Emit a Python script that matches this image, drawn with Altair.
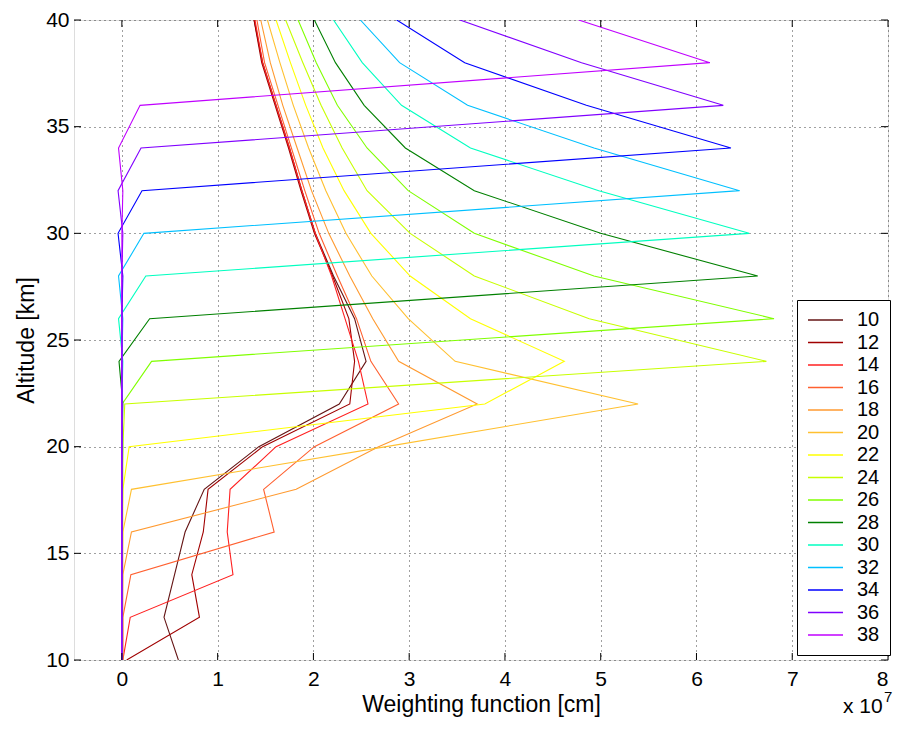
import altair as alt
import pandas as pd

# altitude grid [km]
altitudes = [10, 12, 14, 16, 18, 20, 22, 24, 26, 28, 30, 32, 34, 36, 38, 40]

# weighting functions (x 1e7 cm), one list per tangent altitude, values at the altitudes above
w10 = [0.59, 0.44, 0.55, 0.66, 0.86, 1.43, 2.27, 2.55, 2.43, 2.21, 2.02, 1.88, 1.75, 1.61, 1.47, 1.38]
w12 = [0.05, 0.81, 0.73, 0.85, 0.90, 1.47, 2.38, 2.43, 2.37, 2.20, 2.01, 1.87, 1.74, 1.60, 1.46, 1.38]
w14 = [0.01, 0.087, 1.16, 1.10, 1.13, 1.61, 2.57, 2.47, 2.33, 2.19, 2.02, 1.88, 1.75, 1.61, 1.47, 1.39]
w16 = [0.01, 0.01, 0.094, 1.59, 1.48, 2.01, 2.89, 2.60, 2.45, 2.25, 2.06, 1.91, 1.77, 1.63, 1.49, 1.41]
w18 = [0.01, 0.01, 0.01, 0.10, 1.82, 2.68, 3.71, 2.89, 2.62, 2.38, 2.16, 1.98, 1.83, 1.68, 1.55, 1.45]
w20 = [0.0, 0.0, 0.01, 0.01, 0.10, 2.76, 5.39, 3.48, 2.99, 2.61, 2.34, 2.13, 1.95, 1.79, 1.65, 1.52]
w22 = [0.0, 0.0, 0.0, 0.01, 0.01, 0.076, 3.79, 4.62, 3.64, 3.01, 2.60, 2.32, 2.10, 1.92, 1.76, 1.61]
w24 = [0.0, 0.0, 0.0, 0.0, 0.01, 0.01, 0.03, 6.73, 4.88, 3.68, 3.01, 2.56, 2.30, 2.08, 1.89, 1.71]
w26 = [0.0, 0.0, 0.0, 0.0, 0.0, 0.01, 0.003, 0.31, 6.81, 4.93, 3.68, 2.99, 2.56, 2.25, 2.03, 1.84]
w28 = [0.0, 0.0, 0.0, 0.0, 0.0, 0.0, 0.01, -0.03, 0.29, 6.64, 5.00, 3.68, 2.96, 2.53, 2.23, 2.01]
w30 = [0.0, 0.0, 0.0, 0.0, 0.0, 0.0, 0.0, 0.01, -0.035, 0.25, 6.55, 4.98, 3.64, 2.92, 2.51, 2.21]
w32 = [0.0, 0.0, 0.0, 0.0, 0.0, 0.0, 0.0, 0.0, 0.01, -0.035, 0.23, 6.45, 4.93, 3.61, 2.90, 2.49]
w34 = [0.0, 0.0, 0.0, 0.0, 0.0, 0.0, 0.0, 0.0, 0.0, 0.01, -0.04, 0.21, 6.36, 4.85, 3.58, 2.87]
w36 = [0.0, 0.0, 0.0, 0.0, 0.0, 0.0, 0.0, 0.0, 0.0, 0.0, 0.01, -0.04, 0.20, 6.28, 4.80, 3.53]
w38 = [0.0, 0.0, 0.0, 0.0, 0.0, 0.0, 0.0, 0.0, 0.0, 0.0, 0.0, 0.01, -0.035, 0.19, 6.14, 4.77]

series_names = ["10", "12", "14", "16", "18", "20", "22", "24", "26", "28", "30", "32", "34", "36", "38"]
series_values = [w10, w12, w14, w16, w18, w20, w22, w24, w26, w28, w30, w32, w34, w36, w38]
series_colors = ["#641414", "#a00000", "#ff2020", "#ff6030", "#ff9a30", "#ffc030", "#ffff00",
                 "#c8ff00", "#80ff00", "#008000", "#00ffc0", "#00c0ff", "#0000ff", "#8000ff", "#c000ff"]

x_ticks = [0, 1, 2, 3, 4, 5, 6, 7, 8]
y_ticks = [10, 15, 20, 25, 30, 35, 40]

rows = []
for name, vals in zip(series_names, series_values):
    for a, v in zip(altitudes, vals):
        rows.append({"series": name, "alt": a, "w": v})
df = pd.DataFrame(rows)

W, H = 814, 640
FONT = "Liberation Sans"

xscale = alt.Scale(domain=[-0.5, 8], nice=False, zero=False)
yscale = alt.Scale(domain=[10, 40], nice=False, zero=False)

lines = alt.Chart(df).mark_line(strokeWidth=1.1, clip=True).encode(
    x=alt.X("w:Q", scale=xscale,
            axis=alt.Axis(values=x_ticks, format="d", title="Weighting function [cm]", grid=True,
                          gridDash=[1, 4], gridColor="#000000", gridOpacity=0.75,
                          tickSize=0, domain=False, labelFont=FONT, labelFontSize=21,
                          labelColor="#000000", labelPadding=8, titleFont=FONT,
                          titleFontSize=23, titleFontWeight="normal", titleColor="#000000",
                          titlePadding=4)),
    y=alt.Y("alt:Q", scale=yscale,
            axis=alt.Axis(values=y_ticks, format="d", title="Altitude [km]", grid=True,
                          gridDash=[1, 4], gridColor="#000000", gridOpacity=0.75,
                          tickSize=0, domain=False, labelFont=FONT, labelFontSize=21,
                          labelColor="#000000", labelPadding=5, titleFont=FONT,
                          titleFontSize=23, titleFontWeight="normal", titleColor="#000000",
                          titlePadding=7)),
    color=alt.Color("series:N", sort=series_names,
                    scale=alt.Scale(domain=series_names, range=series_colors),
                    legend=alt.Legend(title=None, orient="none", legendX=723, legendY=280,
                                      symbolType="stroke", symbolSize=1225, symbolStrokeWidth=1.6,
                                      labelFont=FONT, labelFontSize=20, labelColor="#000000",
                                      labelOffset=13, clipHeight=20, rowPadding=2.5,
                                      padding=10, strokeColor="#000000", fillColor="#ffffff",
                                      cornerRadius=0)),
    order=alt.Order("alt:Q"),
    detail="series:N",
)

tick_df_x = pd.DataFrame({"t": x_ticks})
tick_df_y = pd.DataFrame({"t": y_ticks})

ticks_bottom = alt.Chart(tick_df_x).mark_rule(color="#000000", strokeWidth=1).encode(
    x=alt.X("t:Q", scale=xscale), y=alt.value(H), y2=alt.value(H - 7))
ticks_top = alt.Chart(tick_df_x).mark_rule(color="#000000", strokeWidth=1).encode(
    x=alt.X("t:Q", scale=xscale), y=alt.value(0), y2=alt.value(7))
ticks_left = alt.Chart(tick_df_y).mark_rule(color="#000000", strokeWidth=1).encode(
    y=alt.Y("t:Q", scale=yscale), x=alt.value(0), x2=alt.value(7))
ticks_right = alt.Chart(tick_df_y).mark_rule(color="#000000", strokeWidth=1).encode(
    y=alt.Y("t:Q", scale=yscale), x=alt.value(W), x2=alt.value(W - 7))

exp_base = alt.Chart(pd.DataFrame({"s": ["x 10"]})).mark_text(
    align="left", baseline="alphabetic", font=FONT, fontSize=21, color="#000000"
).encode(text="s:N", x=alt.value(769), y=alt.value(693))
exp_sup = alt.Chart(pd.DataFrame({"s": ["7"]})).mark_text(
    align="left", baseline="alphabetic", font=FONT, fontSize=15, color="#000000"
).encode(text="s:N", x=alt.value(810), y=alt.value(682))

chart = alt.layer(lines, ticks_bottom, ticks_top, ticks_left, ticks_right, exp_base, exp_sup).properties(
    width=W, height=H,
    autosize=alt.AutoSizeParams(type="none"),
    padding={"left": 66, "top": 12, "right": 6, "bottom": 58},
).configure_view(stroke="#000000", strokeWidth=1).configure(background="#ffffff")

chart.save("out.html", embed_options={"renderer": "svg", "actions": False})
